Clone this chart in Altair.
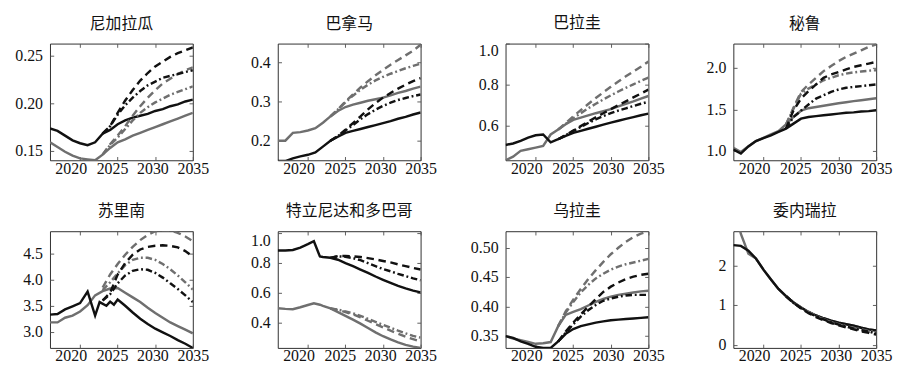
import altair as alt
import pandas as pd

YEARS = list(range(2016, 2036))
PROJ = list(range(2023, 2036))

TITLES = ["尼加拉瓜", "巴拿马", "巴拉圭", "秘鲁", "苏里南", "特立尼达和多巴哥", "乌拉圭", "委内瑞拉"]

# Nicaragua
nic_solid_k = [0.1735, 0.171, 0.166, 0.161, 0.158, 0.156, 0.159, 0.168, 0.172, 0.178, 0.182, 0.185, 0.187, 0.189, 0.192, 0.194, 0.197, 0.199, 0.202, 0.204]
nic_solid_g = [0.159, 0.154, 0.149, 0.145, 0.142, 0.141, 0.140, 0.146, 0.153, 0.159, 0.162, 0.166, 0.169, 0.172, 0.175, 0.178, 0.181, 0.184, 0.187, 0.190]
nic_dash_k = [0.168, 0.176, 0.190, 0.203, 0.214, 0.224, 0.232, 0.239, 0.244, 0.249, 0.253, 0.256, 0.259]
nic_dot_k = [0.168, 0.176, 0.188, 0.198, 0.206, 0.213, 0.219, 0.223, 0.227, 0.229, 0.231, 0.233, 0.235]
nic_dash_g = [0.146, 0.157, 0.166, 0.176, 0.187, 0.197, 0.206, 0.214, 0.221, 0.226, 0.231, 0.235, 0.238]
nic_dot_g = [0.146, 0.156, 0.164, 0.173, 0.182, 0.190, 0.196, 0.201, 0.205, 0.209, 0.212, 0.215, 0.218]

# Panama
pan_solid_k = [0.148, 0.148, 0.155, 0.160, 0.164, 0.170, 0.185, 0.200, 0.210, 0.220, 0.225, 0.230, 0.235, 0.240, 0.245, 0.250, 0.256, 0.261, 0.267, 0.272]
pan_solid_g = [0.200, 0.200, 0.220, 0.222, 0.226, 0.232, 0.246, 0.262, 0.276, 0.286, 0.292, 0.297, 0.302, 0.306, 0.310, 0.316, 0.322, 0.327, 0.333, 0.338]
pan_dash_k = [0.200, 0.212, 0.228, 0.245, 0.262, 0.280, 0.296, 0.310, 0.322, 0.333, 0.343, 0.352, 0.360]
pan_dot_k = [0.200, 0.212, 0.226, 0.240, 0.255, 0.268, 0.279, 0.289, 0.297, 0.304, 0.309, 0.314, 0.318]
pan_dash_g = [0.262, 0.280, 0.300, 0.318, 0.336, 0.352, 0.367, 0.381, 0.394, 0.406, 0.418, 0.430, 0.445]
pan_dot_g = [0.262, 0.280, 0.298, 0.315, 0.330, 0.343, 0.354, 0.363, 0.371, 0.378, 0.385, 0.391, 0.397]

# Paraguay
pry_solid_k = [0.505, 0.512, 0.525, 0.541, 0.552, 0.556, 0.518, 0.533, 0.549, 0.564, 0.574, 0.584, 0.594, 0.604, 0.614, 0.623, 0.632, 0.641, 0.650, 0.658]
pry_solid_g = [0.430, 0.448, 0.476, 0.484, 0.492, 0.500, 0.556, 0.580, 0.606, 0.627, 0.638, 0.649, 0.660, 0.670, 0.680, 0.693, 0.706, 0.718, 0.731, 0.744]
pry_dash_k = [0.533, 0.553, 0.575, 0.597, 0.619, 0.640, 0.660, 0.680, 0.699, 0.718, 0.737, 0.756, 0.775]
pry_dot_k = [0.533, 0.553, 0.573, 0.593, 0.612, 0.630, 0.646, 0.660, 0.673, 0.684, 0.695, 0.706, 0.716]
pry_dash_g = [0.580, 0.612, 0.644, 0.675, 0.705, 0.734, 0.762, 0.789, 0.815, 0.840, 0.864, 0.887, 0.912]
pry_dot_g = [0.580, 0.608, 0.635, 0.660, 0.684, 0.706, 0.727, 0.747, 0.766, 0.784, 0.801, 0.818, 0.834]

# Peru
per_solid_k = [1.02, 0.97, 1.056, 1.12, 1.157, 1.19, 1.23, 1.27, 1.33, 1.39, 1.41, 1.42, 1.43, 1.44, 1.45, 1.46, 1.465, 1.475, 1.48, 1.49]
per_solid_g = [1.04, 0.99, 1.06, 1.12, 1.16, 1.20, 1.24, 1.32, 1.41, 1.485, 1.515, 1.53, 1.545, 1.56, 1.575, 1.587, 1.60, 1.61, 1.622, 1.634]
per_dash_k = [1.27, 1.49, 1.63, 1.72, 1.80, 1.88, 1.92, 1.95, 1.98, 2.01, 2.03, 2.05, 2.07]
per_dot_k = [1.27, 1.41, 1.485, 1.56, 1.63, 1.67, 1.71, 1.74, 1.76, 1.77, 1.78, 1.79, 1.80]
per_dash_g = [1.32, 1.52, 1.71, 1.80, 1.88, 1.96, 2.02, 2.08, 2.13, 2.17, 2.21, 2.25, 2.28]
per_dot_g = [1.32, 1.51, 1.69, 1.75, 1.80, 1.85, 1.88, 1.91, 1.93, 1.945, 1.955, 1.965, 1.97]

# Suriname
sur_years_k = [2016, 2017, 2018, 2019, 2020, 2021, 2022, 2022.6, 2023.5, 2024, 2024.5, 2025,
               2026, 2027, 2028, 2029, 2030, 2031, 2032, 2033, 2034, 2035]
sur_solid_k = [3.33, 3.34, 3.43, 3.49, 3.55, 3.77, 3.31, 3.57, 3.50, 3.58, 3.52, 3.62,
               3.50, 3.37, 3.25, 3.15, 3.06, 2.99, 2.92, 2.84, 2.77, 2.69]
sur_solid_g = [3.18, 3.18, 3.27, 3.31, 3.39, 3.51, 3.70, 3.78, 3.83, 3.84, 3.75, 3.66, 3.57, 3.46, 3.36, 3.27, 3.18, 3.11, 3.04, 2.97]
sur_dash_k = [3.60, 3.75, 4.10, 4.32, 4.48, 4.58, 4.63, 4.65, 4.66, 4.65, 4.62, 4.55, 4.44]
sur_dot_k = [3.60, 3.72, 3.93, 4.08, 4.17, 4.20, 4.19, 4.13, 4.04, 3.93, 3.82, 3.70, 3.57]
sur_dash_g = [3.85, 4.10, 4.30, 4.48, 4.63, 4.76, 4.86, 4.93, 4.95, 4.94, 4.90, 4.83, 4.74]
sur_dot_g = [3.80, 3.95, 4.12, 4.28, 4.38, 4.42, 4.42, 4.38, 4.30, 4.20, 4.08, 3.95, 3.81]

# Trinidad and Tobago
tto_years = [2016, 2017, 2018, 2019, 2020, 2020.8, 2021.6, 2022, 2023, 2024, 2025, 2026, 2027,
             2028, 2029, 2030, 2031, 2032, 2033, 2034, 2035]
tto_solid_k = [0.885, 0.885, 0.889, 0.905, 0.928, 0.948, 0.845, 0.842, 0.836, 0.823, 0.80, 0.78, 0.757,
               0.735, 0.71, 0.688, 0.667, 0.647, 0.63, 0.615, 0.603]
tto_solid_g = [0.496, 0.492, 0.49, 0.503, 0.518, 0.53, 0.52, 0.512, 0.495, 0.47, 0.445, 0.42, 0.393,
               0.363, 0.334, 0.308, 0.286, 0.266, 0.25, 0.238, 0.229]
tto_dash_k = [0.836, 0.848, 0.848, 0.846, 0.841, 0.834, 0.825, 0.815, 0.805, 0.792, 0.78, 0.768, 0.757]
tto_dot_k = [0.836, 0.846, 0.843, 0.834, 0.82, 0.80, 0.78, 0.76, 0.745, 0.728, 0.713, 0.698, 0.685]
tto_dash_g = [0.495, 0.485, 0.47, 0.455, 0.435, 0.412, 0.39, 0.368, 0.345, 0.325, 0.305, 0.288, 0.272]
tto_dot_g = [0.495, 0.487, 0.475, 0.462, 0.445, 0.425, 0.405, 0.385, 0.365, 0.345, 0.327, 0.31, 0.298]

# Uruguay
ury_solid_k = [0.350, 0.347, 0.341, 0.337, 0.332, 0.330, 0.330, 0.341, 0.354, 0.362, 0.367, 0.370, 0.373, 0.375, 0.377, 0.378, 0.379, 0.380, 0.381, 0.382]
ury_solid_g = [0.350, 0.346, 0.343, 0.340, 0.337, 0.338, 0.340, 0.367, 0.386, 0.391, 0.396, 0.402, 0.408, 0.413, 0.417, 0.420, 0.422, 0.424, 0.426, 0.427]
ury_dash_k = [0.341, 0.358, 0.373, 0.387, 0.400, 0.413, 0.425, 0.434, 0.441, 0.447, 0.451, 0.454, 0.456]
ury_dot_k = [0.341, 0.356, 0.370, 0.383, 0.394, 0.403, 0.410, 0.414, 0.417, 0.419, 0.420, 0.420, 0.420]
ury_dash_g = [0.367, 0.392, 0.412, 0.430, 0.447, 0.462, 0.476, 0.489, 0.500, 0.510, 0.518, 0.524, 0.528]
ury_dot_g = [0.367, 0.390, 0.408, 0.424, 0.437, 0.448, 0.456, 0.463, 0.468, 0.472, 0.475, 0.478, 0.481]

# Venezuela
ven_solid_k = [2.52, 2.50, 2.38, 2.18, 1.90, 1.65, 1.41, 1.23, 1.07, 0.94, 0.83, 0.74, 0.67, 0.61, 0.56, 0.52, 0.48, 0.43, 0.39, 0.36]
ven_solid_g = [3.60, 2.80, 2.30, 2.18, 1.90, 1.65, 1.41, 1.23, 1.07, 0.94, 0.83, 0.74, 0.67, 0.61, 0.56, 0.52, 0.48, 0.43, 0.39, 0.36]
ven_dash_k = [1.23, 1.06, 0.92, 0.80, 0.70, 0.62, 0.55, 0.49, 0.44, 0.39, 0.34, 0.30, 0.26]
ven_dot_k = [1.23, 1.06, 0.93, 0.81, 0.72, 0.64, 0.57, 0.51, 0.46, 0.41, 0.37, 0.33, 0.29]
ven_dash_g = [1.23, 1.07, 0.93, 0.82, 0.72, 0.64, 0.57, 0.51, 0.46, 0.42, 0.37, 0.33, 0.30]
ven_dot_g = [1.23, 1.07, 0.94, 0.83, 0.73, 0.65, 0.58, 0.52, 0.47, 0.43, 0.39, 0.35, 0.32]

Y_DOMAINS = [[0.140, 0.263], [0.15, 0.448], [0.43, 1.0], [0.89, 2.29],
             [2.69, 4.93], [0.229, 1.015], [0.33, 0.528], [-0.08, 2.87]]
Y_TICKS = [[0.15, 0.20, 0.25], [0.2, 0.3, 0.4], [0.6, 0.8, 1.0], [1.0, 1.5, 2.0],
           [3.0, 3.5, 4.0, 4.5], [0.4, 0.6, 0.8, 1.0], [0.35, 0.40, 0.45, 0.50], [0, 1, 2]]
Y_FMT = [".2f", ".1f", ".1f", ".1f", ".1f", ".1f", ".2f", "d"]
X_TICKS = [2020, 2025, 2030, 2035]

SERIES = [
    (YEARS, nic_solid_k, YEARS, nic_solid_g, nic_dash_k, nic_dot_k, nic_dash_g, nic_dot_g),
    (YEARS, pan_solid_k, YEARS, pan_solid_g, pan_dash_k, pan_dot_k, pan_dash_g, pan_dot_g),
    (YEARS, pry_solid_k, YEARS, pry_solid_g, pry_dash_k, pry_dot_k, pry_dash_g, pry_dot_g),
    (YEARS, per_solid_k, YEARS, per_solid_g, per_dash_k, per_dot_k, per_dash_g, per_dot_g),
    (sur_years_k, sur_solid_k, YEARS, sur_solid_g, sur_dash_k, sur_dot_k, sur_dash_g, sur_dot_g),
    (tto_years, tto_solid_k, tto_years, tto_solid_g, tto_dash_k, tto_dot_k, tto_dash_g, tto_dot_g),
    (YEARS, ury_solid_k, YEARS, ury_solid_g, ury_dash_k, ury_dot_k, ury_dash_g, ury_dot_g),
    (YEARS, ven_solid_k, YEARS, ven_solid_g, ven_dash_k, ven_dot_k, ven_dash_g, ven_dot_g),
]

BLACK = "#111111"
GRAY = "#6f6f6f"
DASH = [8, 5]
DASHDOT = [7, 3, 2, 3]
STYLES = [
    ("solid_g", GRAY, None),
    ("solid_k", BLACK, None),
    ("dash_g", GRAY, DASH),
    ("dot_g", GRAY, DASHDOT),
    ("dash_k", BLACK, DASH),
    ("dot_k", BLACK, DASHDOT),
]

W, H = 153, 125
LABEL_FONT = "Liberation Serif, Times New Roman, serif"

# the reference's year labels sit a little left of their tick positions
X_LABEL_OFFSET = {
    "condition": [
        {"test": "datum.value == 2020", "value": -10},
        {"test": "datum.value == 2025", "value": -6},
        {"test": "datum.value == 2030", "value": -3},
    ],
    "value": 0,
}


def make_panel(i):
    yk, sk, yg, sg, dk, ok, dg, og = SERIES[i]
    rows = []
    for x, v in zip(yk, sk):
        rows.append({"s": "solid_k", "year": x, "v": v})
    for x, v in zip(yg, sg):
        rows.append({"s": "solid_g", "year": x, "v": v})
    for name, arr in (("dash_k", dk), ("dot_k", ok), ("dash_g", dg), ("dot_g", og)):
        for x, v in zip(PROJ, arr):
            rows.append({"s": name, "year": x, "v": v})
    df = pd.DataFrame(rows)

    x_enc = alt.X("year:Q",
                  scale=alt.Scale(domain=[2016, 2035], nice=False, zero=False),
                  axis=alt.Axis(values=X_TICKS, format="d", title=None,
                                grid=True, gridDash=[4, H - 8, 4, 400], gridColor="#555",
                                gridOpacity=1, ticks=False, domain=False, labelPadding=1,
                                labelFlush=False, labelOverlap=False,
                                labelOffset=X_LABEL_OFFSET,
                                labelFont=LABEL_FONT, labelFontSize=17, labelColor="#111"))
    y_enc = alt.Y("v:Q",
                  scale=alt.Scale(domain=Y_DOMAINS[i], nice=False, zero=False),
                  axis=alt.Axis(values=Y_TICKS[i], format=Y_FMT[i], title=None,
                                grid=True, gridDash=[4, W - 8, 4, 400], gridColor="#555",
                                gridOpacity=1, ticks=False, domain=False, labelPadding=8,
                                labelFlush=3.3, labelFlushOffset=0, labelOverlap=False,
                                labelFont=LABEL_FONT, labelFontSize=17, labelColor="#111",
                                minExtent=44, maxExtent=44))
    base = alt.Chart(df).encode(x=x_enc, y=y_enc, order="year:Q")
    layers = []
    for key, col, dash in STYLES:
        kw = dict(color=col, strokeWidth=2.6, clip=True)
        if dash is not None:
            kw["strokeDash"] = dash
        layers.append(base.transform_filter(alt.datum.s == key).mark_line(**kw))
    return alt.layer(*layers).properties(
        width=W, height=H,
        title=alt.TitleParams(TITLES[i], offset=12),
    )


panels = [make_panel(i) for i in range(8)]
row1 = alt.hconcat(*panels[:4], spacing=28)
row2 = alt.hconcat(*panels[4:], spacing=28)
chart = alt.vconcat(row1, row2, spacing=27).properties(
    padding={"left": 0, "top": -7, "right": 0, "bottom": 0}
).configure_view(
    stroke="#222", strokeWidth=1
).configure_title(
    font="Noto Sans CJK SC", fontSize=17, fontWeight="normal", color="#111"
)

chart.save("out.html", embed_options={"renderer": "svg", "actions": False})
